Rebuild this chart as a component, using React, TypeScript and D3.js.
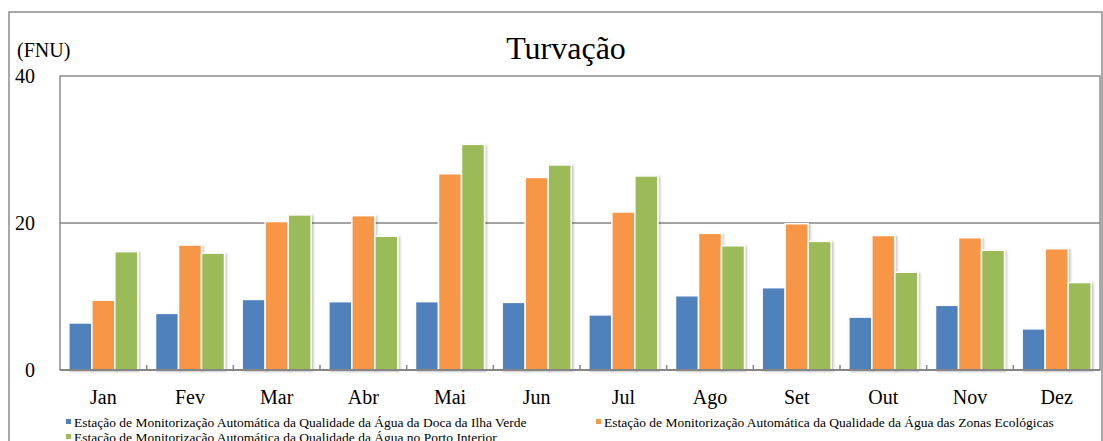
import React, { useRef, useEffect } from 'react';
import * as d3 from 'd3';

const months = ['Jan', 'Fev', 'Mar', 'Abr', 'Mai', 'Jun', 'Jul', 'Ago', 'Set', 'Out', 'Nov', 'Dez'];
const seriesNames = [
  'Estação de Monitorização Automática da Qualidade da Água da Doca da Ilha Verde',
  'Estação de Monitorização Automática da Qualidade da Água das Zonas Ecológicas',
  'Estação de Monitorização Automática da Qualidade da Água no Porto Interior',
];
const ilhaVerde = [6.4, 7.7, 9.6, 9.3, 9.3, 9.2, 7.5, 10.1, 11.2, 7.2, 8.8, 5.6];
const zonasEcologicas = [9.5, 17.0, 20.2, 21.0, 26.7, 26.2, 21.5, 18.6, 19.9, 18.3, 18.0, 16.5];
const portoInterior = [16.1, 15.9, 21.1, 18.2, 30.7, 27.9, 26.4, 16.9, 17.5, 13.3, 16.3, 11.9];
const yTicks = [0, 20, 40];
const colors = ['#4F81BD', '#F79646', '#9BBB59'];

const FONT = '"Liberation Serif", "Times New Roman", serif';

const App = () => {
  const svgRef = useRef(null);

  useEffect(() => {
    const width = 1103;
    const height = 441;
    const plot = { left: 60, top: 76, right: 1100, bottom: 370 };

    const svg = d3.select(svgRef.current);
    svg.selectAll('*').remove();
    svg.attr('width', width).attr('height', height).style('background', '#fff');

    const defs = svg.append('defs');
    const f = defs.append('filter').attr('id', 'barShadow')
      .attr('x', '-20%').attr('y', '-10%').attr('width', '150%').attr('height', '130%');
    f.append('feDropShadow').attr('dx', 1.5).attr('dy', 1).attr('stdDeviation', 1)
      .attr('flood-color', '#000').attr('flood-opacity', 0.25);

    // outer frame
    svg.append('rect')
      .attr('x', 9).attr('y', 12).attr('width', 1093).attr('height', 460)
      .attr('fill', 'none').attr('stroke', '#8c8c8c').attr('stroke-width', 1.5);

    const data = [ilhaVerde, zonasEcologicas, portoInterior];

    const x0 = d3.scaleBand().domain(months).range([plot.left, plot.right]).padding(0);
    const x1 = d3.scaleBand().domain(['0', '1', '2']).range([0, x0.bandwidth()])
      .paddingInner(0).paddingOuter(0.384);
    const y = d3.scaleLinear().domain([0, 40]).range([plot.bottom, plot.top]);

    // plot area
    svg.append('rect')
      .attr('x', plot.left).attr('y', plot.top)
      .attr('width', plot.right - plot.left).attr('height', plot.bottom - plot.top)
      .attr('fill', 'none').attr('stroke', '#8c8c8c').attr('stroke-width', 1.5);

    // gridlines
    svg.append('g').selectAll('line')
      .data(yTicks.filter(t => t > 0 && t < 40))
      .join('line')
      .attr('x1', plot.left).attr('x2', plot.right)
      .attr('y1', d => y(d)).attr('y2', d => y(d))
      .attr('stroke', '#868686').attr('stroke-width', 1.5);

    // bars
    const groups = svg.append('g').selectAll('g')
      .data(months)
      .join('g')
      .attr('transform', d => `translate(${x0(d)},0)`);

    groups.selectAll('rect')
      .data((m, i) => data.map((s, k) => ({ k, v: s[i] })))
      .join('rect')
      .attr('x', d => x1(String(d.k)))
      .attr('width', x1.bandwidth())
      .attr('y', d => y(d.v))
      .attr('height', d => y(0) - y(d.v))
      .attr('fill', d => colors[d.k])
      .attr('stroke', '#fff')
      .attr('stroke-width', 1.5)
      .style('filter', 'url(#barShadow)');

    // x axis line and ticks
    svg.append('line')
      .attr('x1', plot.left).attr('x2', plot.right)
      .attr('y1', plot.bottom).attr('y2', plot.bottom)
      .attr('stroke', '#868686').attr('stroke-width', 2);

    svg.append('g').selectAll('line')
      .data(months.slice(1))
      .join('line')
      .attr('x1', d => x0(d)).attr('x2', d => x0(d))
      .attr('y1', plot.bottom - 5).attr('y2', plot.bottom)
      .attr('stroke', '#868686').attr('stroke-width', 1.5);

    // month labels
    svg.append('g').selectAll('text')
      .data(months)
      .join('text')
      .attr('x', d => x0(d) + x0.bandwidth() / 2)
      .attr('y', 404)
      .attr('text-anchor', 'middle')
      .attr('font-family', FONT).attr('font-size', 20)
      .attr('fill', '#000')
      .text(d => d);

    // y labels
    svg.append('g').selectAll('text')
      .data(yTicks)
      .join('text')
      .attr('x', 35)
      .attr('y', d => y(d) + 7)
      .attr('text-anchor', 'end')
      .attr('font-family', FONT).attr('font-size', 20)
      .attr('fill', '#000')
      .text(d => d);

    svg.append('text')
      .attr('x', 17).attr('y', 57)
      .attr('font-family', FONT).attr('font-size', 20)
      .text('(FNU)');

    svg.append('text')
      .attr('x', 566).attr('y', 59)
      .attr('text-anchor', 'middle')
      .attr('font-family', FONT).attr('font-size', 32)
      .text('Turvação');

    // legend
    const legendPos = [
      { x: 66, y: 427 },
      { x: 596, y: 427 },
      { x: 66, y: 442 },
    ];
    const lg = svg.append('g').selectAll('g')
      .data(seriesNames)
      .join('g')
      .attr('transform', (d, i) => `translate(${legendPos[i].x},${legendPos[i].y})`);
    lg.append('rect')
      .attr('x', 0).attr('y', -8).attr('width', 5).attr('height', 5)
      .attr('fill', (d, i) => colors[i]);
    lg.append('text')
      .attr('x', 8).attr('y', 0)
      .attr('font-family', FONT).attr('font-size', 13.5)
      .attr('fill', '#000')
      .text(d => d);
  }, []);

  return (
    <div style={{ position: 'absolute', left: 0, top: 0 }}>
      <svg ref={svgRef}></svg>
    </div>
  );
};

export default App;
